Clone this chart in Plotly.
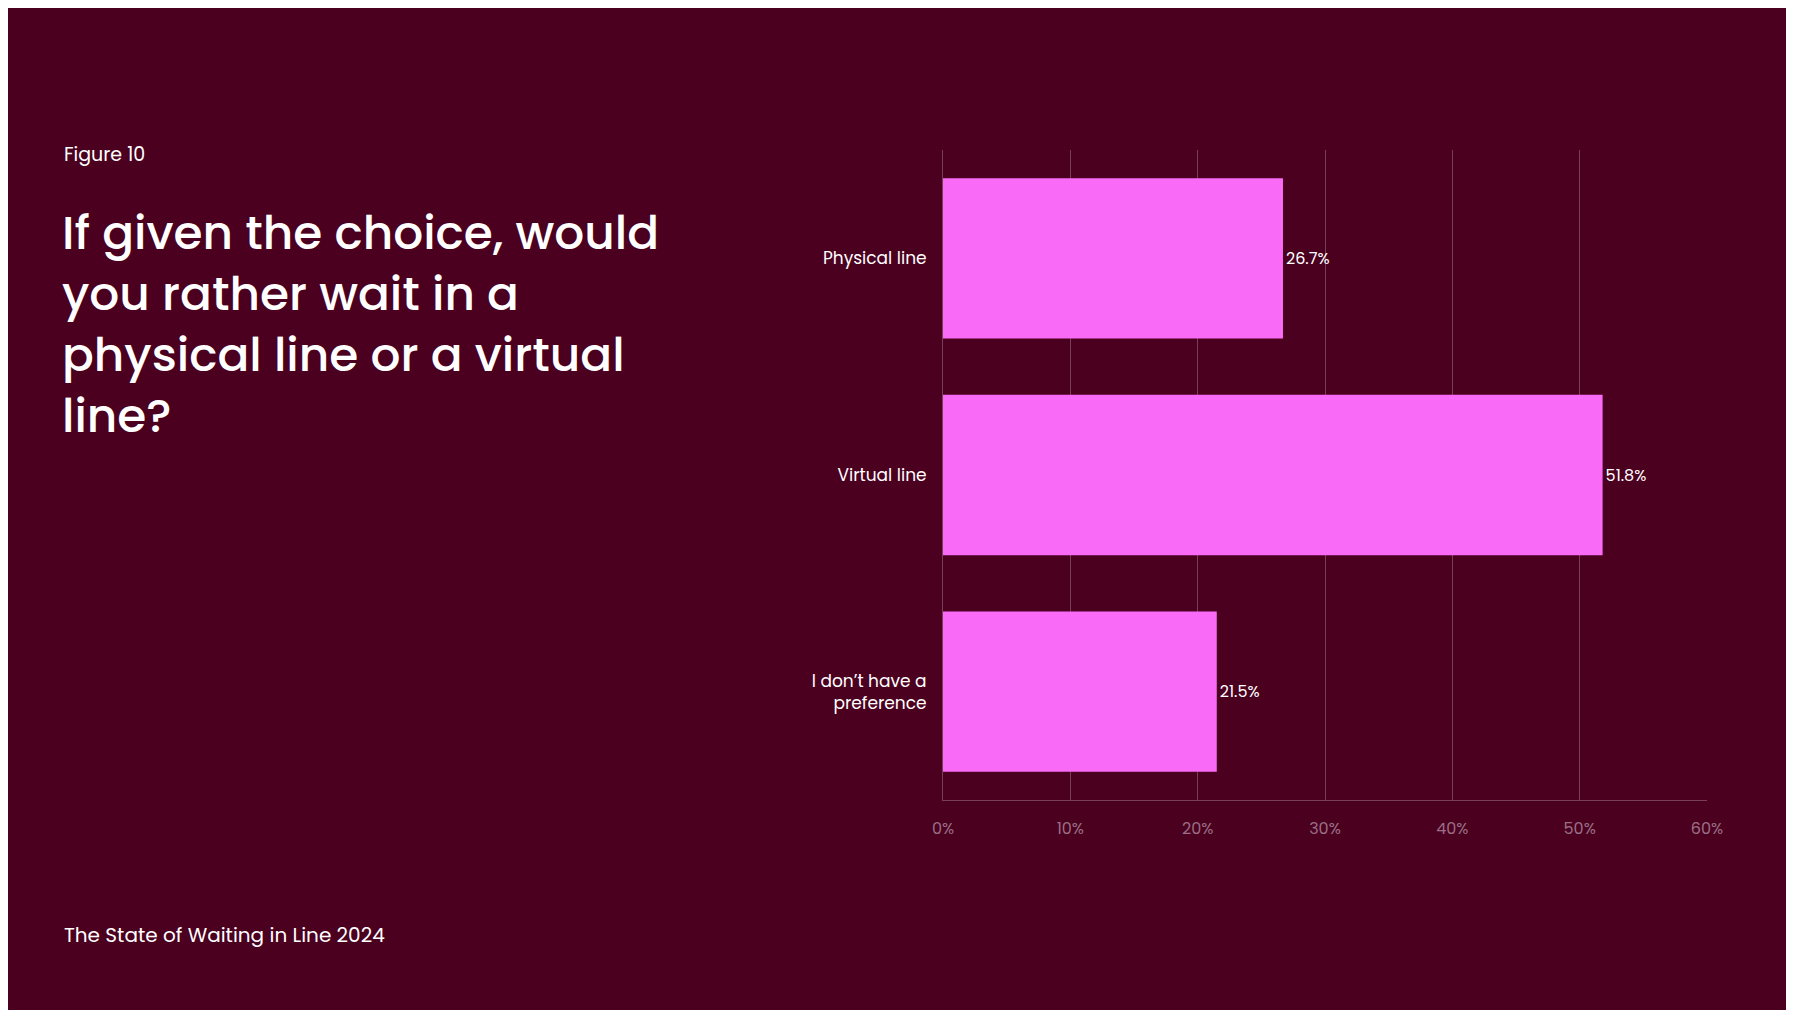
import plotly.graph_objects as go

categories = ["Physical line", "Virtual line", "I don’t have a<br>preference"]
values = [26.7, 51.8, 21.5]
labels = ["26.7%", "51.8%", "21.5%"]
tick_vals = [0, 10, 20, 30, 40, 50, 60]
tick_text = ["0%", "10%", "20%", "30%", "40%", "50%", "60%"]

BG = "#4b001f"
PINK = "#f96bf7"
FONT = "Poppins, Lato, sans-serif"

# plot area in page pixels (page has an 8px body margin)
L, R, T, B = 935, 1699, 142, 792

fig = go.Figure(go.Bar(
    x=values, y=categories, orientation="h",
    marker=dict(color=PINK, line=dict(width=0)),
    text=labels, textposition="outside", cliponaxis=False,
    textfont=dict(color="white", size=16, family=FONT),
    width=0.74,
))

fig.update_layout(
    width=1786, height=1002,
    paper_bgcolor=BG, plot_bgcolor=BG,
    margin=dict(l=L, r=1786 - R, t=T, b=1002 - B),
    showlegend=False,
    font=dict(family=FONT, color="white"),
    xaxis=dict(range=[0, 60], tickvals=tick_vals, ticktext=tick_text,
               showgrid=True, gridcolor="rgba(255,255,255,0.25)", gridwidth=1,
               zeroline=False, showline=True, linecolor="rgba(255,255,255,0.25)",
               tickfont=dict(size=16, color="#9a6f86"), ticks="", ticklabelstandoff=14),
    yaxis=dict(autorange="reversed", showgrid=False, zeroline=False,
               showline=True, linecolor="rgba(255,255,255,0.25)",
               tickfont=dict(size=17, color="white"), ticks="", ticklabelstandoff=12),
)


def px_to_paper(xp, yp):
    return (xp - L) / (R - L), (B - yp) / (B - T)


x0, y0 = px_to_paper(54, 147)
fig.add_annotation(text="Figure 10", xref="paper", yref="paper", x=x0, y=y0, showarrow=False,
                   xanchor="left", yanchor="middle", font=dict(size=19, color="white"))
x1, y1 = px_to_paper(52, 190)
fig.add_annotation(text="If given the choice, would<br>you rather wait in a<br>physical line or a virtual<br>line?",
                   xref="paper", yref="paper", x=x1, y=y1, showarrow=False, align="left",
                   xanchor="left", yanchor="top", font=dict(size=47, color="white", weight=500),
                   height=270, valign="top")
x2, y2 = px_to_paper(54, 927)
fig.add_annotation(text="The State of Waiting in Line 2024", xref="paper", yref="paper", x=x2, y=y2,
                   showarrow=False, xanchor="left", yanchor="middle", font=dict(size=20, color="white"))

fig.write_html("out.html")
